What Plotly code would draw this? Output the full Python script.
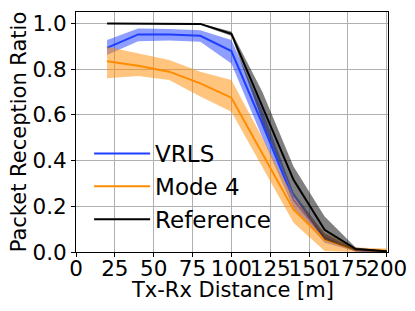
import plotly.graph_objects as go

distance = [20, 40, 60, 80, 100, 120, 140, 160, 180, 200]

vrls_mean = [0.893, 0.952, 0.952, 0.946, 0.879, 0.56, 0.228, 0.061, 0.006, 0.001]
vrls_low = [0.862, 0.922, 0.925, 0.920, 0.825, 0.50, 0.19, 0.040, 0.002, 0.0]
vrls_high = [0.927, 0.978, 0.976, 0.970, 0.927, 0.62, 0.26, 0.080, 0.010, 0.003]

mode4_mean = [0.835, 0.815, 0.789, 0.738, 0.675, 0.43, 0.185, 0.054, 0.010, 0.006]
mode4_low = [0.760, 0.770, 0.752, 0.680, 0.614, 0.37, 0.128, 0.004, 0.0, 0.0]
mode4_high = [0.898, 0.869, 0.840, 0.789, 0.752, 0.50, 0.240, 0.084, 0.020, 0.015]

ref_mean = [1.0, 1.0, 1.0, 0.998, 0.955, 0.634, 0.316, 0.097, 0.013, 0.003]
ref_low = [0.999, 0.999, 0.998, 0.994, 0.945, 0.57, 0.243, 0.054, 0.006, 0.0]
ref_high = [1.0, 1.0, 1.0, 1.0, 0.965, 0.70, 0.374, 0.155, 0.020, 0.006]

x_ticks = [0, 25, 50, 75, 100, 125, 150, 175, 200]
y_ticks = [0.0, 0.2, 0.4, 0.6, 0.8, 1.0]

series = [
    ("VRLS", vrls_mean, vrls_low, vrls_high, "#1f3fff", "rgba(31,63,255,0.5)"),
    ("Mode 4", mode4_mean, mode4_low, mode4_high, "#ff8c00", "rgba(255,140,0,0.5)"),
    ("Reference", ref_mean, ref_low, ref_high, "#000000", "rgba(0,0,0,0.5)"),
]

fig = go.Figure()
for name, m, lo, hi, col, fcol in series:
    fig.add_trace(go.Scatter(
        x=distance + distance[::-1], y=hi + lo[::-1], fill="toself",
        fillcolor=fcol, line=dict(width=0), mode="lines",
        showlegend=False, hoverinfo="skip"))
    fig.add_trace(go.Scatter(
        x=distance, y=m, mode="lines", name=name,
        line=dict(color=col, width=2)))

font = "DejaVu Sans"
fig.update_layout(
    width=415, height=311,
    margin=dict(l=76, r=27, t=12, b=59),
    paper_bgcolor="white", plot_bgcolor="white",
    font=dict(family=font, color="black", size=21),
    legend=dict(x=0.042, y=0.50, xanchor="left", yanchor="top",
                bgcolor="rgba(0,0,0,0)", font=dict(size=23),
                itemwidth=56, tracegroupgap=0),
    showlegend=True,
    annotations=[dict(text="Tx-Rx Distance [m]", xref="paper", yref="paper",
                      x=0.5, y=-0.157, xanchor="center", yanchor="middle",
                      showarrow=False, font=dict(size=21))],
)
fig.update_xaxes(
    range=[0, 200.8], tickvals=x_ticks, tickangle=0, automargin=False,
    showgrid=True, gridcolor="#b0b0b0", gridwidth=1,
    showline=True, linecolor="black", linewidth=1, mirror=True,
    ticks="outside", ticklen=4, tickcolor="black", zeroline=False,
    ticklabelstandoff=-7, tickfont=dict(size=21.5))
fig.update_yaxes(
    range=[0, 1.05], tickvals=y_ticks, tickformat=".1f", automargin=False,
    title=dict(text="Packet Reception Ratio", font=dict(size=21), standoff=0),
    showgrid=True, gridcolor="#b0b0b0", gridwidth=1,
    showline=True, linecolor="black", linewidth=1, mirror=True,
    ticks="outside", ticklen=4, tickcolor="black", zeroline=False,
    tickfont=dict(size=21.5))

fig.write_html("out.html", config={"displayModeBar": False},
               post_script="document.body.style.margin='0';document.body.style.overflow='hidden';")
